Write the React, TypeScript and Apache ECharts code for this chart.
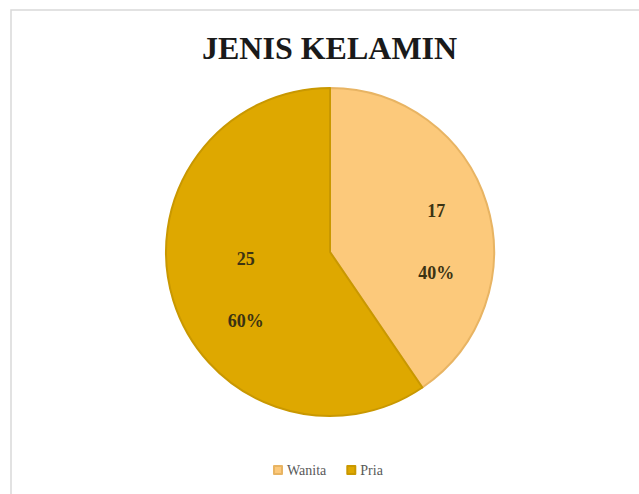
import React, { useEffect, useRef } from "react";
import * as echarts from "echarts";

const categories = ["Wanita", "Pria"];
const values = [17, 25];
const colors = ["#FCC97B", "#DEA800"];
const borderColors = ["#E8B463", "#C99800"];
const titleText = "JENIS KELAMIN";

const serif = "'Liberation Serif', 'Times New Roman', serif";

export default function App() {
  const ref = useRef<HTMLDivElement>(null);
  useEffect(() => {
    document.body.style.margin = "0";
    const chart = echarts.init(ref.current!, null, { renderer: "svg" });
    const labelOffsets = [
      { dx: 25, dy: 15 },
      { dx: -3, dy: 13 },
    ];
    chart.setOption({
      animation: false,
      backgroundColor: "#ffffff",
      textStyle: { fontFamily: serif },
      title: {
        text: titleText,
        left: 197,
        top: 27,
        textStyle: {
          fontFamily: serif,
          fontWeight: "bold",
          fontSize: 32,
          color: "#1a1a1a",
        },
      },
      graphic: [
        {
          type: "rect",
          shape: { x: 11, y: 10, width: 700, height: 600 },
          style: { fill: "none", stroke: "#d9d9d9", lineWidth: 1.5 },
          silent: true,
        },
      ],
      legend: {
        data: categories,
        top: 458,
        left: 268,
        icon: "rect",
        itemWidth: 8,
        itemHeight: 8,
        itemGap: 20,
        textStyle: {
          fontFamily: serif,
          fontSize: 14,
          color: "#595959",
        },
      },
      series: [
        {
          type: "pie",
          center: [330, 252],
          radius: 164,
          startAngle: 90,
          clockwise: true,
          data: categories.map((name, i) => ({
            name,
            value: values[i],
            itemStyle: {
              color: colors[i],
              borderColor: borderColors[i],
              borderWidth: 2,
            },
          })),
          label: {
            show: true,
            position: "inside",
            formatter: (p: any) => `${p.value}\n\n${Math.round(p.percent)}%`,
            fontFamily: serif,
            fontWeight: "bold",
            fontSize: 18,
            lineHeight: 31,
            color: "#3b3313",
          },
          labelLayout: (params: any) => labelOffsets[params.dataIndex] || {},
          labelLine: { show: false },
          emphasis: { disabled: true },
        },
      ],
    });
    return () => chart.dispose();
  }, []);
  return (
    <div
      ref={ref}
      style={{ position: "fixed", left: 0, top: 0, width: 639, height: 494 }}
    />
  );
}
